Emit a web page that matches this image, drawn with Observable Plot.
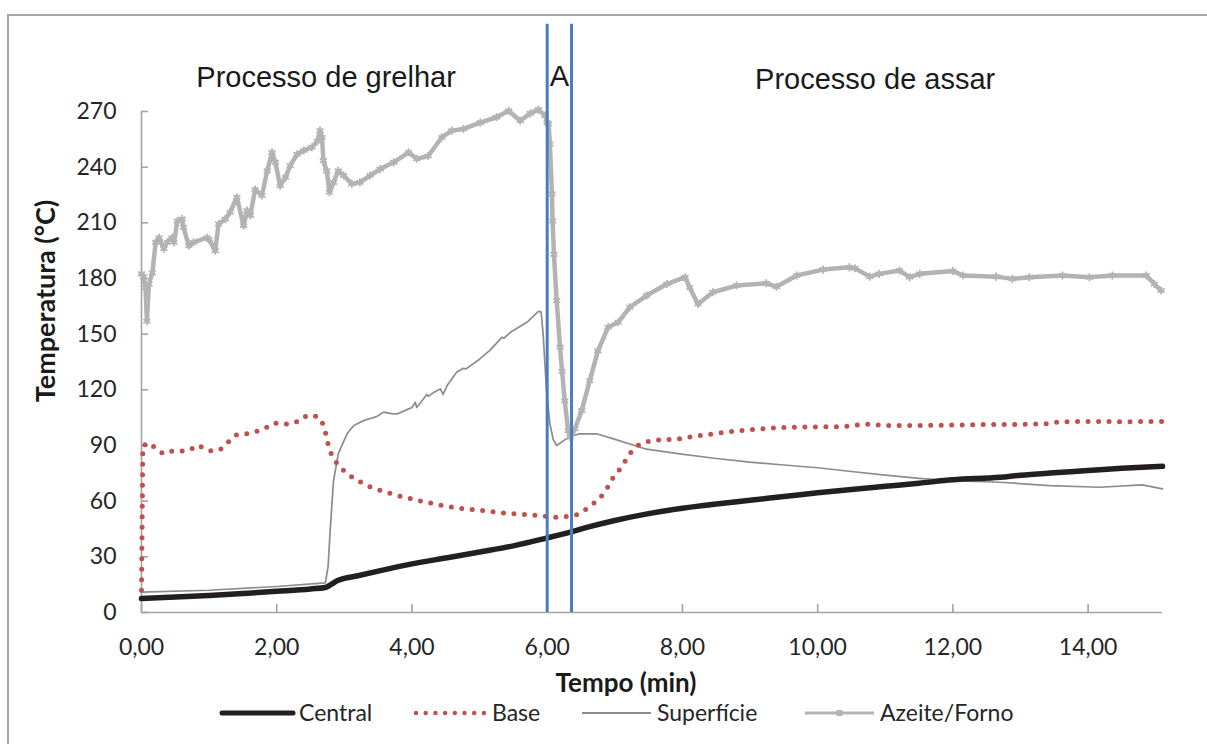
<!DOCTYPE html>
<html><head><meta charset="utf-8">
<script src="https://cdn.jsdelivr.net/npm/d3@7"></script>
<script src="https://cdn.jsdelivr.net/npm/@observablehq/plot@0.6"></script>
<style>
body{margin:0;background:#fff;}
#wrap{position:relative;width:1207px;height:744px;overflow:hidden;background:#fff;}
#frame{position:absolute;left:7px;top:14px;width:1300px;height:800px;border:2px solid #a6a6a6;box-sizing:border-box;}
#chart{position:absolute;left:0;top:0;}
.legtext{position:absolute;font-family:Lato, sans-serif;font-size:23px;color:#262626;line-height:1;white-space:nowrap;}
.legsw{position:absolute;overflow:visible;}
</style></head><body>
<div id="wrap"><div id="frame"></div><div id="chart"></div><div id="legend"></div></div>
<script>
// ---- data (time in min, temperature in °C) ----
const centralTime = [0,0.5,1.0,1.5,2.0,2.5,2.72,2.8,2.9,3.2,3.5,4.0,4.5,5.0,5.5,6.0,6.34,6.6,7.0,7.5,8.0,8.5,9.0,9.5,10.0,10.5,11.0,11.5,12.0,12.7,13.0,13.5,14.0,14.5,15.1];
const centralTemp = [7.5,8.3,9.2,10.2,11.4,12.7,13.5,15,17.2,19.8,22.3,26.2,29.4,32.6,35.9,40.2,43.3,46,49.6,53.3,56.2,58.5,60.5,62.5,64.5,66.3,68,69.7,71.5,72.9,74,75.3,76.5,77.7,78.8];

const baseTime = [0,0.01,0.02,0.13,0.22,0.33,0.45,0.58,0.71,0.84,0.95,1.05,1.18,1.29,1.41,1.56,1.71,1.83,1.95,2.05,2.15,2.28,2.41,2.54,2.65,2.71,2.74,2.78,2.84,2.94,3.06,3.2,3.33,3.48,3.63,3.79,3.93,4.09,4.24,4.4,4.55,4.71,4.86,5.02,5.17,5.33,5.49,5.65,5.8,5.96,6.12,6.27,6.43,6.56,6.68,6.79,6.89,6.96,7.06,7.15,7.23,7.34,7.48,7.64,7.8,7.94,8.2,8.5,8.8,9.0,9.3,9.6,10.0,10.4,10.7,11.0,11.5,12.0,12.5,13.0,13.4,13.6,14.0,14.5,15.1];
const baseTemp = [12,50,90,91.4,87.8,85.5,86.9,86.9,87.6,90.3,87.8,86.9,88.2,92.1,95.9,96.3,97.7,99.3,102,102,101.5,102.4,105.6,106.4,104.4,99,93.6,87.8,82.8,78.3,74.2,71.1,68.4,66.4,64.7,63,61.8,60.3,59.3,58,57,56.2,55.7,55,54.5,53.7,53.2,52.8,52.5,51.9,51.3,51.7,52.6,55.3,58.6,62.1,67.2,72,76.5,81.4,86,90,92.1,93,93.2,93.6,95,96.5,97.8,98.5,99.3,99.8,100,100.2,101.5,100.8,100.8,101,101.3,101.3,101.8,102.8,103,102.8,103];

const superficieTime = [0,1.0,2.0,2.72,2.76,2.79,2.84,2.91,2.94,3.04,3.14,3.28,3.48,3.58,3.7,3.78,3.92,4.0,4.05,4.07,4.12,4.22,4.24,4.32,4.42,4.46,4.52,4.66,4.76,4.8,5.0,5.16,5.33,5.36,5.48,5.7,5.87,5.91,5.94,5.99,6.04,6.09,6.14,6.28,6.4,6.48,6.73,6.98,7.47,7.96,8.5,9.0,9.5,10.0,10.5,11.0,11.5,12.0,12.69,13.43,14.17,14.8,15.1];
const superficieTemp = [11,12,14,16,25,44,71,85.5,88,96.3,100.8,103.4,105.6,108,107.2,107,109.2,110.5,113.3,110.5,112.8,117.5,116.5,118.5,120.5,117.5,122.3,129.5,131.6,131.3,136.5,141.5,148.3,147.8,151.6,156.4,162.3,162,150,119.6,101.7,93,90,93.6,95.5,96.3,96.3,93.6,88,85.5,83,81,79.5,78,76,74,72.3,71,70.2,68.4,67.5,68.8,66.6];

const azeiteTime = [0,0.03,0.06,0.08,0.11,0.16,0.21,0.26,0.33,0.38,0.45,0.48,0.53,0.6,0.62,0.7,0.77,0.97,1.0,1.09,1.14,1.24,1.31,1.41,1.51,1.56,1.61,1.68,1.78,1.86,1.93,1.98,2.05,2.13,2.2,2.3,2.4,2.52,2.6,2.64,2.67,2.69,2.74,2.78,2.84,2.91,2.99,3.11,3.23,3.38,3.53,3.73,3.95,4.07,4.24,4.44,4.59,4.76,5.01,5.25,5.43,5.6,5.75,5.87,5.97,6.0,6.02,6.04,6.07,6.08,6.1,6.14,6.19,6.22,6.26,6.31,6.34,6.41,6.51,6.63,6.75,6.9,7.05,7.22,7.47,7.77,8.04,8.11,8.23,8.45,8.8,9.24,9.39,9.69,10.08,10.47,10.55,10.77,10.91,11.21,11.36,11.51,12.0,12.15,12.64,12.88,13.13,13.62,14.02,14.36,14.86,14.98,15.08];
const azeiteTemp = [182.5,181,175,157,177,183,199.5,202,196,199.5,202,199.5,211,212,207.6,197.7,199.5,202,201,195,209.4,212,215.7,223.8,208.5,216.6,214,228,224.7,238,248,242.6,230,234.5,240.8,247,249,250.7,254,259.7,256,243.5,238,226.5,231.8,238,235.5,231,231.8,235.5,239,242.6,248,244.5,246,256,259.7,260.6,264,266.9,270.4,265,269,271,267.8,264,263.3,252.5,225.6,211,193,168,143,130,114,98,94.5,99,108.8,125,141,153.7,156.4,164.5,170.8,177,180.7,175,166.3,172.6,176.2,177.4,175.6,181.6,184.8,186,185.5,181,182.5,184.3,180.7,182.5,184,181.6,181,179.8,180.7,181.6,180.7,181.6,181.6,177,173.5];

const phaseBounds = [6.0, 6.36];           // stage "A" limits (min)
const phaseTop = 317;                       // upper end of the stage lines (°C units)
const annotationText = ["Processo de grelhar", "A", "Processo de assar"];
const annotationTime = [2.73, 6.18, 10.85];
const annotationTemp = [283, 284, 282];

const xTicks = [0,2,4,6,8,10,12,14];
const yTicks = [0,30,60,90,120,150,180,210,240,270];
const seriesNames = ["Central","Base","Superfície","Azeite/Forno"];

// ---- build tables ----
const rows = (t, v) => t.map((d, i) => ({t: d, v: v[i]}));
const central = rows(centralTime, centralTemp);
const base = rows(baseTime, baseTemp);
const superficie = rows(superficieTime, superficieTemp);
const azeite = rows(azeiteTime, azeiteTemp);
const annotations = annotationText.map((s, i) => ({label: s, t: annotationTime[i], v: annotationTemp[i]}));

const axisColor = "#a3a3a3";
const cCentral = "#231f20", cBase = "#c0504d", cSup = "#8c8c8c", cAz = "#b3b3b3", cBlue = "#4a7dbf";

const chart = Plot.plot({
  width: 1207, height: 700,
  marginLeft: 141, marginRight: 45, marginTop: 111, marginBottom: 88,
  x: {domain: [0, 15.1]},
  y: {domain: [0, 270]},
  style: {fontFamily: "Lato, sans-serif", fontSize: "23px", color: "#262626", background: "transparent", overflow: "visible"},
  marks: [
    Plot.ruleX([0], {y1: 0, y2: 270, stroke: axisColor, strokeWidth: 1.6}),
    Plot.ruleY([0], {stroke: axisColor, strokeWidth: 1.6}),
    Plot.axisY({ticks: yTicks, tickSize: -7, tickPadding: 32, stroke: axisColor, strokeWidth: 1.6, label: null, fontSize: 23}),
    Plot.axisX({ticks: xTicks, tickSize: -8, tickPadding: 34, stroke: axisColor, strokeWidth: 1.6, label: null, fontSize: 23,
      tickFormat: d => d.toFixed(2).replace(".", ",")}),
    Plot.line(superficie, {x: "t", y: "v", stroke: cSup, strokeWidth: 1.7}),
    Plot.line(azeite, {x: "t", y: "v", stroke: cAz, strokeWidth: 4.5, strokeLinejoin: "round"}),
    Plot.dot(azeite, {x: "t", y: "v", symbol: "asterisk", r: 3.8, stroke: cAz, strokeWidth: 1.8}),
    Plot.line(base, {x: "t", y: "v", stroke: cBase, strokeWidth: 5, strokeDasharray: "0 10.5", strokeLinecap: "round", strokeLinejoin: "round"}),
    Plot.line(central, {x: "t", y: "v", stroke: cCentral, strokeWidth: 5.5, strokeLinecap: "round", curve: "monotone-x"}),
    Plot.ruleX(phaseBounds, {y1: 0, y2: phaseTop, stroke: cBlue, strokeWidth: 3}),
    Plot.text(annotations, {x: "t", y: "v", text: "label", fontFamily: "'Liberation Sans', Arial, sans-serif", fontSize: 29, lineAnchor: "bottom", fill: "#1a1a1a"}),
    Plot.text(["Temperatura (°C)"], {frameAnchor: "left", textAnchor: "middle", rotate: -90, dx: -95, dy: -61, fontWeight: "bold", fontSize: 27, fill: "#1a1a1a"}),
    Plot.text(["Tempo (min)"], {frameAnchor: "bottom", textAnchor: "middle", dx: -26, dy: 79, lineAnchor: "bottom", fontWeight: "bold", fontSize: 26, fill: "#1a1a1a"})
  ]
});
document.getElementById("chart").appendChild(chart);

// ---- legend ----
const legend = document.getElementById("legend");
const legY = 713;
const legLayout = [
  {sw: [222, 293], tx: 299},
  {sw: [416, 484], tx: 492},
  {sw: [582, 651], tx: 657},
  {sw: [805, 874], tx: 880}
];
const ns = "http://www.w3.org/2000/svg";
seriesNames.forEach((name, i) => {
  const L = legLayout[i];
  const w = L.sw[1] - L.sw[0];
  const svg = document.createElementNS(ns, "svg");
  svg.setAttribute("class", "legsw");
  svg.setAttribute("width", w + 10); svg.setAttribute("height", 14);
  svg.style.left = (L.sw[0] - 5) + "px"; svg.style.top = (legY - 7) + "px";
  const ln = document.createElementNS(ns, "line");
  ln.setAttribute("x1", 5); ln.setAttribute("x2", w + 5); ln.setAttribute("y1", 7); ln.setAttribute("y2", 7);
  if (i === 0) { ln.setAttribute("stroke", cCentral); ln.setAttribute("stroke-width", 5); ln.setAttribute("stroke-linecap", "round"); }
  if (i === 1) { ln.setAttribute("stroke", cBase); ln.setAttribute("stroke-width", 4.5); ln.setAttribute("stroke-dasharray", "0 9.7"); ln.setAttribute("stroke-linecap", "round"); }
  if (i === 2) { ln.setAttribute("stroke", cSup); ln.setAttribute("stroke-width", 2); }
  if (i === 3) { ln.setAttribute("stroke", cAz); ln.setAttribute("stroke-width", 3); }
  svg.appendChild(ln);
  if (i === 3) {
    const m = document.createElementNS(ns, "rect");
    m.setAttribute("x", w / 2 + 5 - 3); m.setAttribute("y", 4); m.setAttribute("width", 6); m.setAttribute("height", 6);
    m.setAttribute("fill", cAz);
    svg.appendChild(m);
  }
  legend.appendChild(svg);
  const t = document.createElement("div");
  t.className = "legtext";
  t.textContent = name;
  t.style.left = L.tx + "px";
  t.style.top = (legY - 12) + "px";
  legend.appendChild(t);
});
</script>
</body></html>
